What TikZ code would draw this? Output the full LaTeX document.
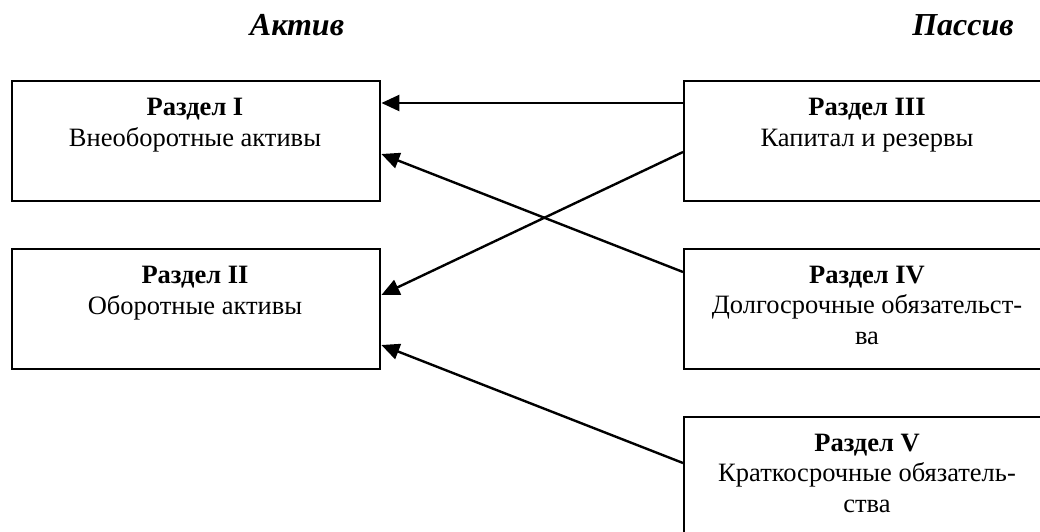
\documentclass[tikz,border=0pt]{standalone}
\usepackage{fontspec}
\setmainfont{Liberation Serif}
\usetikzlibrary{arrows.meta}
\begin{document}
\begin{tikzpicture}[x=1pt,y=-1pt,
  section/.style={draw=black,line width=2.4pt,minimum width=368pt,minimum height=120pt,inner sep=0pt,anchor=north west},
  caption/.style={anchor=base,font=\fontsize{26.5}{30.5}\selectfont,align=center,inner sep=0pt},
  heading/.style={anchor=base,font=\fontsize{32}{36}\selectfont\bfseries\itshape,inner sep=0pt},
  link/.style={line width=2.4pt,-{Triangle[length=18pt,width=16pt]}}]
  \clip (0,0) rectangle (1040,531);
  \fill[white] (0,0) rectangle (1040,531);

  % column headings
  \node[heading] (hA) at (297,35) {Актив};
  \node[heading] (hP) at (963,35) {Пассив};

  % balance sheet sections
  \node[section] (s1) at (11,80) {};
  \node[section] (s2) at (11,248) {};
  \node[section] (s3) at (683,80) {};
  \node[section] (s4) at (683,248) {};
  \node[section] (s5) at (683,416) {};

  % section captions, placed by the baseline of their last line
  \node[caption] (t1) at (195,146) {\textbf{Раздел I}\\Внеоборотные активы};
  \node[caption] (t2) at (195,314) {\textbf{Раздел II}\\Оборотные активы};
  \node[caption] (t3) at (867,146) {\textbf{Раздел III}\\Капитал и резервы};
  \node[caption] (t4) at (867,344) {\textbf{Раздел IV}\\Долгосрочные обязательст-\\ва};
  \node[caption] (t5) at (867,512) {\textbf{Раздел V}\\Краткосрочные обязатель-\\ства};

  % connectors
  \draw[link] ([yshift=-23pt]s3.north west) -- ([yshift=-23pt]s1.north east);
  \draw[link] ([yshift=-72pt]s3.north west) -- ([yshift=-47pt]s2.north east);
  \draw[link] ([yshift=-24pt]s4.north west) -- ([yshift=-74pt]s1.north east);
  \draw[link] ([yshift=-47pt]s5.north west) -- ([yshift=-97pt]s2.north east);
\end{tikzpicture}
\end{document}
